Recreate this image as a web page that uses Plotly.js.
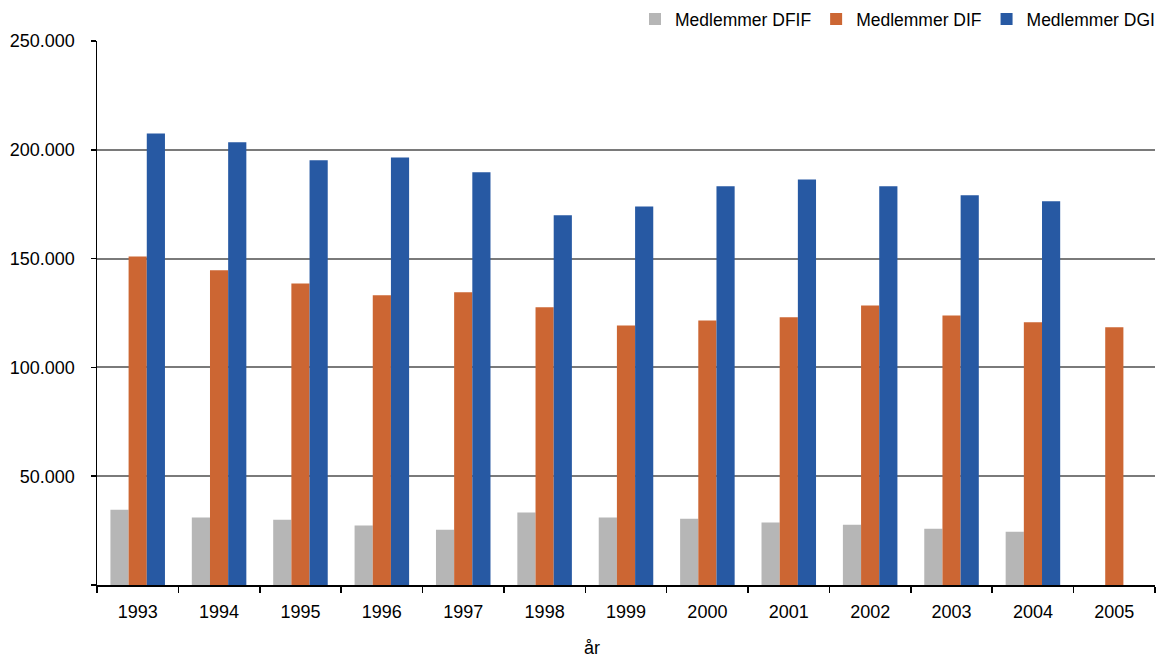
<!DOCTYPE html>
<html>
<head>
<meta charset="utf-8">
<script src="https://cdn.plot.ly/plotly-3.0.1.min.js"></script>
<style>html,body{margin:0;padding:0;background:#fff}#chart{width:1160px;height:659px}</style>
</head>
<body>
<div id="chart"></div>
<script>
const years = ['1993','1994','1995','1996','1997','1998','1999','2000','2001','2002','2003','2004','2005'];
const dfif = [34600, 31000, 30000, 27300, 25400, 33300, 31000, 30500, 28700, 27700, 25900, 24500, null];
const dif  = [151000, 144600, 138600, 133100, 134500, 127600, 119300, 121600, 123000, 128500, 123900, 120700, 118400];
const dgi  = [207500, 203500, 195200, 196500, 189700, 169900, 174000, 183200, 186400, 183200, 179100, 176300, null];
const seriesNames = ['Medlemmer DFIF', 'Medlemmer DIF', 'Medlemmer DGI'];
const yTickVals = [0, 50000, 100000, 150000, 200000, 250000];
const yTickText = ['', '50.000', '100.000', '150.000', '200.000', '250.000'];
const xTitle = 'år';

const fam = 'Liberation Sans, Arial, Helvetica, sans-serif';
const font = {family: fam, size: 18, color: '#000'};
const colors = ['#b6b6b6', '#cc6633', '#2759a3'];
const data = [dfif, dif, dgi].map((vals, i) => ({
  type: 'bar', x: years, y: vals, name: seriesNames[i],
  marker: {color: colors[i], line: {width: 0}}, hoverinfo: 'x+y'
}));

const layout = {
  width: 1160, height: 659,
  margin: {l: 97, r: 0, t: 41, b: 74},
  paper_bgcolor: '#fff', plot_bgcolor: '#fff',
  font: font,
  separators: ',.',
  barmode: 'group', bargap: 0.33, bargroupgap: 0,
  showlegend: true,
  legend: {orientation: 'h', x: 1.005, xanchor: 'right', y: 1.04, yanchor: 'middle',
           font: {family: fam, size: 17.5, color: '#000'}, itemwidth: 30, traceorder: 'normal',
           bgcolor: 'rgba(0,0,0,0)'},
  xaxis: {type: 'category', showgrid: false, showline: true, linecolor: '#000', linewidth: 1.5,
          ticks: 'outside', tickson: 'boundaries', ticklen: 6, tickcolor: '#000', tickwidth: 1.5,
          ticklabelstandoff: 10, tickfont: {family: fam, size: 18, color: '#000'}, zeroline: false},
  yaxis: {range: [0, 250000], tickvals: yTickVals, ticktext: yTickText, showgrid: true,
          gridcolor: '#7a7a7a', gridwidth: 2, showline: true, linecolor: '#000', linewidth: 1.5,
          ticks: 'outside', ticklen: 5, tickcolor: '#000', tickwidth: 1.5, zeroline: false,
          ticklabelstandoff: 12,
          tickfont: {family: fam, size: 18, color: '#000'}},
  annotations: [{text: xTitle, xref: 'paper', yref: 'paper', x: (594 - 97) / 1063, y: (585 - 636) / 544,
                 xanchor: 'center', yanchor: 'top', showarrow: false,
                 font: {family: fam, size: 18, color: '#000'}}]
};
Plotly.newPlot('chart', data, layout, {displayModeBar: false, staticPlot: true});
</script>
</body>
</html>
